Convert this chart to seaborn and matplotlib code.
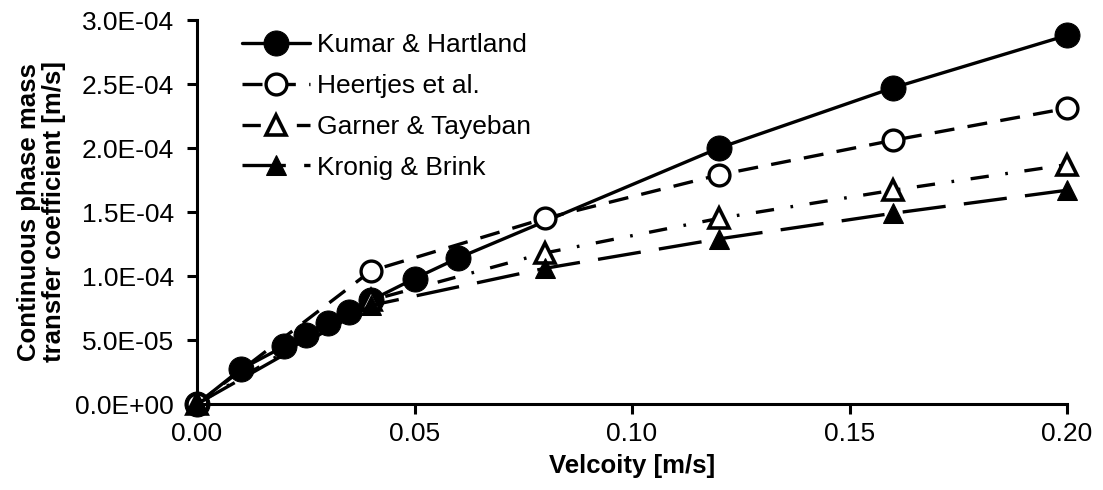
import matplotlib
matplotlib.use("Agg")
import matplotlib.pyplot as plt
from matplotlib.ticker import FuncFormatter, MultipleLocator
import seaborn as sns
import numpy as np

# Data
kumar_x = [0.0, 0.01, 0.02, 0.025, 0.03, 0.035, 0.04, 0.05, 0.06, 0.12, 0.16, 0.20]
kumar_y = [0.0, 2.7e-5, 4.5e-5, 5.4e-5, 6.3e-5, 7.2e-5, 8.1e-5, 9.8e-5, 1.14e-4, 2.0e-4, 2.47e-4, 2.88e-4]
heert_x = [0.0, 0.04, 0.08, 0.12, 0.16, 0.20]
heert_y = [0.0, 1.04e-4, 1.45e-4, 1.79e-4, 2.06e-4, 2.31e-4]
garner_x = [0.0, 0.04, 0.08, 0.12, 0.16, 0.20]
garner_y = [0.0, 8.1e-5, 1.18e-4, 1.45e-4, 1.67e-4, 1.87e-4]
kronig_x = [0.0, 0.04, 0.08, 0.12, 0.16, 0.20]
kronig_y = [0.0, 7.7e-5, 1.06e-4, 1.29e-4, 1.49e-4, 1.67e-4]
labels = ["Kumar & Hartland", "Heertjes et al.", "Garner & Tayeban", "Kronig & Brink"]

sns.set_theme(style="ticks")
plt.rcParams['font.family'] = ['Liberation Sans', 'DejaVu Sans']
plt.rcParams['text.color'] = 'black'
plt.rcParams['axes.labelcolor'] = 'black'

fig, ax = plt.subplots(figsize=(11.03, 4.9), dpi=100)
fig.subplots_adjust(left=197/1103, right=1067/1103, bottom=1-404/490, top=1-20/490)

lw = 2.4
sns.lineplot(x=kumar_x, y=kumar_y, ax=ax, color="black", lw=lw, linestyle="-",
             marker="o", markersize=18, markerfacecolor="black", markeredgecolor="black",
             label=labels[0], clip_on=False)
sns.lineplot(x=heert_x, y=heert_y, ax=ax, color="black", lw=lw, dashes=(6, 4),
             marker="o", markersize=15, markerfacecolor="white", markeredgecolor="black",
             markeredgewidth=2.4, label=labels[1], clip_on=False)
sns.lineplot(x=garner_x, y=garner_y, ax=ax, color="black", lw=lw, dashes=(5.5, 5, 0.8, 5),
             marker="^", markersize=15, markerfacecolor="white", markeredgecolor="black",
             markeredgewidth=2.6, label=labels[2], clip_on=False)
sns.lineplot(x=kronig_x, y=kronig_y, ax=ax, color="black", lw=lw, dashes=(13, 5.5),
             marker="^", markersize=14, markerfacecolor="black", markeredgecolor="black",
             label=labels[3], clip_on=False)

ax.set_xlim(0, 0.2)
ax.set_ylim(0, 3.0e-4)
ax.xaxis.set_major_locator(MultipleLocator(0.05))
ax.yaxis.set_major_locator(MultipleLocator(5e-5))
ax.xaxis.set_major_formatter(FuncFormatter(lambda v, p: f"{v:.2f}"))
ax.yaxis.set_major_formatter(FuncFormatter(lambda v, p: f"{v:.1E}"))
ax.yaxis.get_offset_text().set_visible(False)

for s in ["top", "right"]:
    ax.spines[s].set_visible(False)
for s in ["left", "bottom"]:
    ax.spines[s].set_linewidth(2.2)
    ax.spines[s].set_color("black")
ax.tick_params(axis="both", direction="out", length=7, width=2.2, colors="black",
               labelsize=19)
ax.tick_params(axis="y", pad=9.5)
ax.tick_params(axis="x", pad=6)

ax.set_xlabel("Velcoity [m/s]", fontsize=18.5, fontweight="bold", labelpad=6, color="black")
ax.set_ylabel("Continuous phase mass\ntransfer coefficient [m/s]", fontsize=18.5,
              fontweight="bold", labelpad=7, linespacing=1.05, color="black")

leg = ax.legend(loc="upper left", bbox_to_anchor=(0.024, 1.028), frameon=False,
                fontsize=19, handlelength=2.6, labelspacing=0.64, handletextpad=0.25,
                labelcolor="black")

fig.savefig("out.png", dpi=100)
